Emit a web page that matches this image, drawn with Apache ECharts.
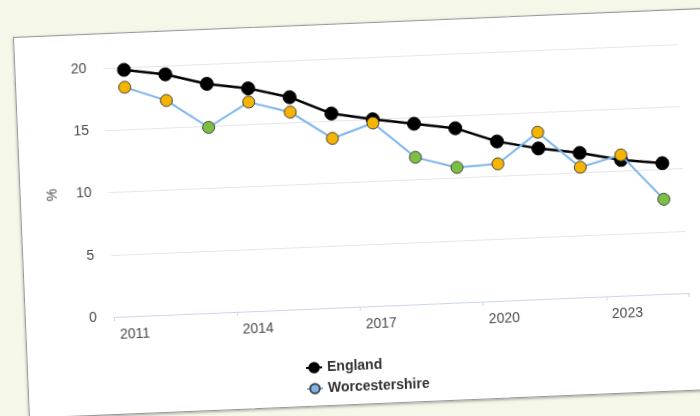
<!DOCTYPE html>
<html>
<head>
<meta charset="utf-8">
<script src="https://cdn.jsdelivr.net/npm/echarts@6/dist/echarts.min.js"></script>
<style>
  html, body { margin: 0; padding: 0; width: 700px; height: 416px; overflow: hidden; background: #f5f7e9; }
  #card { position: absolute; left: 13px; top: 37px; width: 730px; height: 380px; background: #fff;
          border: 1px solid #9a9a9a; box-shadow: 0 1px 3px rgba(0,0,0,0.35);
          transform-origin: 0 0; transform: rotate(-2.4deg); }
  #chart { position: absolute; left: 0; top: 0; width: 730px; height: 380px; filter: blur(0.45px); }
</style>
</head>
<body>
<div id="card"><div id="chart"></div></div>
<script>
const years = ['2011','2012','2013','2014','2015','2016','2017','2018','2019','2020','2021','2022','2023','2024'];
const england = [19.8, 19.3, 18.4, 17.9, 17.05, 15.6, 15.0, 14.5, 14.0, 12.8, 12.1, 11.6, 10.9, 10.5];
const worcestershire = [18.4, 17.2, 14.9, 16.8, 15.85, 13.6, 14.7, 11.8, 10.85, 11.0, 13.4, 10.45, 11.3, 7.6];
// significance compared with England: 'similar' (amber) or 'better' (green)
const worcsSignificance = ['similar','similar','better','similar','similar','similar','similar','better','better','similar','similar','similar','similar','better'];
const yTicks = [0, 5, 10, 15, 20];

const sigColors = { similar: '#f5b400', better: '#7cc043' };
const FONT = 'Liberation Sans, Arial, sans-serif';

const chart = echarts.init(document.getElementById('chart'), null, { renderer: 'canvas' });
chart.setOption({
  animation: false,
  backgroundColor: 'transparent',
  grid: { left: 88, top: 34, width: 575, height: 249, containLabel: false },
  xAxis: {
    type: 'category',
    data: years,
    boundaryGap: true,
    axisLine: { lineStyle: { color: '#ccd6eb', width: 1 } },
    axisTick: { show: true, length: 4, lineStyle: { color: '#ccd6eb' } },
    axisLabel: { interval: 2, color: '#4a4a4a', fontSize: 14, fontFamily: FONT, margin: 11 },
    splitLine: { show: false }
  },
  yAxis: {
    type: 'value',
    min: yTicks[0],
    max: yTicks[yTicks.length - 1],
    interval: 5,
    name: '%',
    nameLocation: 'middle',
    nameRotate: 90,
    nameGap: 49,
    nameTextStyle: { color: '#4a4a4a', fontSize: 14, fontFamily: FONT },
    axisLine: { show: false },
    axisTick: { show: false },
    axisLabel: { color: '#4a4a4a', fontSize: 14, fontFamily: FONT, margin: 17 },
    splitLine: { lineStyle: { color: '#e6e6e6', width: 1 } }
  },
  legend: {
    orient: 'vertical',
    left: 272,
    top: 330,
    itemWidth: 16,
    itemHeight: 12,
    itemGap: 7,
    textStyle: { color: '#333', fontSize: 14, fontWeight: 'bold', fontFamily: FONT },
    data: ['England', 'Worcestershire']
  },
  series: [
    {
      name: 'England',
      type: 'line',
      data: england,
      symbol: 'circle',
      symbolSize: 13,
      lineStyle: { color: '#000', width: 2.5 },
      itemStyle: { color: '#000', borderColor: '#000', borderWidth: 1 },
      z: 2
    },
    {
      name: 'Worcestershire',
      type: 'line',
      data: worcestershire.map((v, i) => ({
        value: v,
        itemStyle: { color: sigColors[worcsSignificance[i]], borderColor: '#444', borderWidth: 1 }
      })),
      symbol: 'circle',
      symbolSize: 12,
      lineStyle: { color: '#7cb5ec', width: 2 },
      itemStyle: { color: '#7cb5ec', borderColor: '#444', borderWidth: 1 },
      z: 3
    }
  ]
});
</script>
</body>
</html>
